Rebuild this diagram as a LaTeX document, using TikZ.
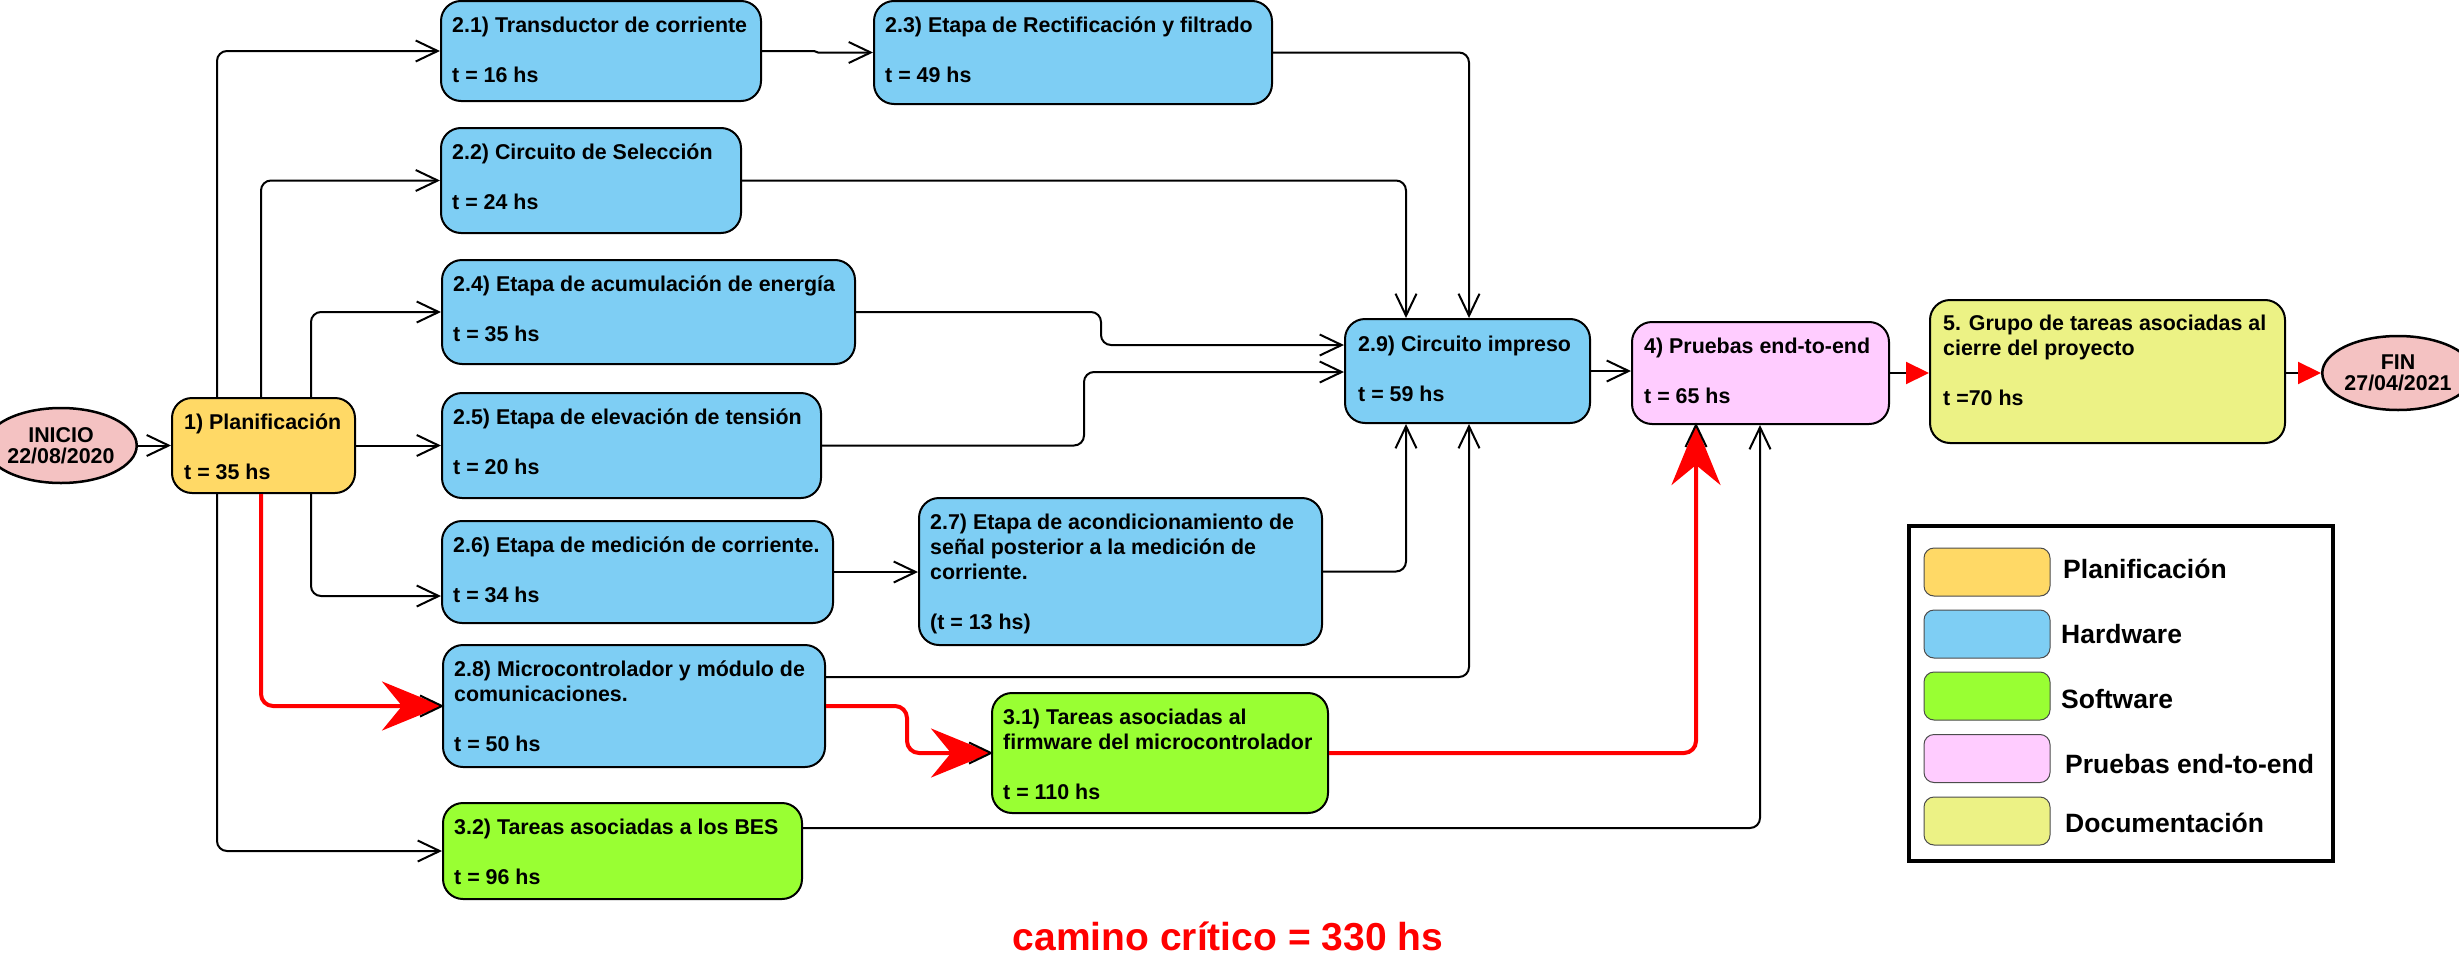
\documentclass[tikz,border=0pt]{standalone}
\usepackage{fontspec}
\setmainfont{Liberation Sans}
\usetikzlibrary{arrows.meta,shapes.geometric}
\definecolor{plancol}{RGB}{255,217,102}
\definecolor{hwcol}{RGB}{126,206,244}
\definecolor{swcol}{RGB}{153,255,51}
\definecolor{e2ecol}{RGB}{255,204,255}
\definecolor{doccol}{RGB}{236,242,133}
\definecolor{milecol}{RGB}{244,194,194}
\tikzset{
  task/.style={draw=black, line width=2pt, rounded corners=20pt, inner sep=0pt},
  mile/.style={ellipse, draw=black, line width=2.5pt, fill=milecol, inner sep=0pt, align=center,
     font=\bfseries\fontsize{21.4pt}{21pt}\selectfont},
  txt/.style={anchor=base west, inner sep=0pt, font=\bfseries\fontsize{21.4pt}{25pt}\selectfont},
  conn/.style={draw=black, line width=2pt, rounded corners=10pt,
     -{Straight Barb[length=22pt,width=21pt,line width=2pt]}},
  crit/.style={draw=red, line width=4pt, rounded corners=12pt,
     -{Stealth[length=60pt,width=49pt,inset=20pt,color=red]}},
  tri/.style={draw=black, line width=2pt, -{Triangle[length=23pt,width=22pt,color=red]}},
  swatch/.style={draw=black!70, line width=1pt, rounded corners=10pt, minimum width=126pt, minimum height=48pt, inner sep=0pt},
  legtxt/.style={anchor=base west, inner sep=0pt, font=\bfseries\fontsize{26.5pt}{30pt}\selectfont},
  barb/.style={draw=black, line width=2pt}
}
\newcommand{\tasktext}[1]{\begin{tabular}[t]{@{}l@{}}#1\end{tabular}}
\begin{document}
\begin{tikzpicture}[x=1pt,y=-1pt]
\useasboundingbox (0,0) rectangle (2459,953);

% milestones
\node[mile, minimum width=118pt, minimum height=75pt] (ini) at (61,445.5) {INICIO\\22/08/2020};
\node[mile, minimum width=117pt, minimum height=74pt] (fin) at (2398,373) {FIN\\27/04/2021};

% task boxes
\node[task, fill=plancol, minimum width=183pt, minimum height=95pt] (plan) at (263.5,445.5) {};
\node[task, fill=hwcol, minimum width=320pt, minimum height=100pt] (b21) at (601,51) {};
\node[task, fill=hwcol, minimum width=398pt, minimum height=103pt] (b23) at (1073,52.5) {};
\node[task, fill=hwcol, minimum width=300pt, minimum height=105pt] (b22) at (591,180.5) {};
\node[task, fill=hwcol, minimum width=413pt, minimum height=104pt] (b24) at (648.5,312) {};
\node[task, fill=hwcol, minimum width=379pt, minimum height=105pt] (b25) at (631.5,445.5) {};
\node[task, fill=hwcol, minimum width=391pt, minimum height=102pt] (b26) at (637.5,572) {};
\node[task, fill=hwcol, minimum width=403pt, minimum height=147pt] (b27) at (1120.5,571.5) {};
\node[task, fill=hwcol, minimum width=382pt, minimum height=122pt] (b28) at (634,706) {};
\node[task, fill=swcol, minimum width=336pt, minimum height=120pt] (b31) at (1160,753) {};
\node[task, fill=swcol, minimum width=359pt, minimum height=96pt] (b32) at (622.5,851) {};
\node[task, fill=hwcol, minimum width=245pt, minimum height=104pt] (b29) at (1467.5,371) {};
\node[task, fill=e2ecol, minimum width=257pt, minimum height=102pt] (b4) at (1760.5,373) {};
\node[task, fill=doccol, minimum width=355pt, minimum height=143pt] (b5) at (2107.5,371.5) {};

% texts
\node[txt] (tplan) at ([shift={(13,32)}]plan.north west) {\tasktext{1) Planificación\\[25pt]t = 35 hs}};
\node[txt] (t21) at ([shift={(12,32)}]b21.north west) {\tasktext{2.1) Transductor de corriente\\[25pt]t = 16 hs}};
\node[txt] (t23) at ([shift={(12,32)}]b23.north west) {\tasktext{2.3) Etapa de Rectificación y filtrado\\[25pt]t = 49 hs}};
\node[txt] (t22) at ([shift={(12,32)}]b22.north west) {\tasktext{2.2) Circuito de Selección\\[25pt]t = 24 hs}};
\node[txt] (t24) at ([shift={(12,32)}]b24.north west) {\tasktext{2.4) Etapa de acumulación de energía\\[25pt]t = 35 hs}};
\node[txt] (t25) at ([shift={(12,32)}]b25.north west) {\tasktext{2.5) Etapa de elevación de tensión\\[25pt]t = 20 hs}};
\node[txt] (t26) at ([shift={(12,32)}]b26.north west) {\tasktext{2.6) Etapa de medición de corriente.\\[25pt]t = 34 hs}};
\node[txt] (t27) at ([shift={(12,32)}]b27.north west) {\tasktext{2.7) Etapa de acondicionamiento de\\señal posterior a la medición de\\corriente.\\[25pt](t = 13 hs)}};
\node[txt] (t28) at ([shift={(12,32)}]b28.north west) {\tasktext{2.8) Microcontrolador y módulo de\\comunicaciones.\\[25pt]t = 50 hs}};
\node[txt] (t31) at ([shift={(12,32)}]b31.north west) {\tasktext{3.1) Tareas asociadas al\\firmware del microcontrolador\\[25pt]t = 110 hs}};
\node[txt] (t32) at ([shift={(12,32)}]b32.north west) {\tasktext{3.2) Tareas asociadas a los BES\\[25pt]t = 96 hs}};
\node[txt] (t29) at ([shift={(14,33)}]b29.north west) {\tasktext{2.9) Circuito impreso\\[25pt]t = 59 hs}};
\node[txt] (t4) at ([shift={(13,32)}]b4.north west) {\tasktext{4) Pruebas end-to-end\\[25pt]t = 65 hs}};
\node[txt] (t5) at ([shift={(14,31)}]b5.north west) {\tasktext{5. Grupo de tareas asociadas al\\cierre del proyecto\\[25pt]t =70 hs}};

% routing coordinates
\coordinate (xA) at (217,0);
\coordinate (xB) at (261,0);
\coordinate (xC) at (311,0);
\coordinate (xD) at (1406,0);
\coordinate (xE) at (1469,0);
\coordinate (xG) at (907,0);
\coordinate (xH) at (1696,0);
\coordinate (xI) at (1760,0);
\coordinate (yA) at (0,596);
\coordinate (yD) at (0,677);
\coordinate (yE) at (0,828);
\coordinate (k24) at (1101,345);
\coordinate (k25) at (1084,372);

% connectors
\draw[conn] (ini.east) -- (plan.west);
\draw[conn] (plan.north -| xA) |- (b21.west);
\draw[conn] (plan.north -| xB) |- (b22.west);
\draw[conn] (plan.north -| xC) |- (b24.west);
\draw[conn] (plan.east) -- (b25.west);
\draw[conn] (plan.south -| xC) |- (b26.west |- yA);
\draw[conn] (plan.south -| xA) |- (b32.west);
\draw[conn, rounded corners=0pt] (b21.east) -- ++(52,0) -- ++(4,1.5) -- (b23.west);
\draw[conn] (b23.east) -| (b29.north -| xE);
\draw[conn] (b22.east) -| (b29.north -| xD);
\draw[conn] (b24.east) -| (k24) -- (b29.west |- k24);
\draw[conn] (b25.east) -| (k25) -- (b29.west |- k25);
\draw[conn] (b26.east) -- (b27.west |- b26.east);
\draw[conn] (b27.east) -| (b29.south -| xD);
\draw[conn] (b28.east |- yD) -| (b29.south -| xE);
\draw[conn] (b32.east |- yE) -| (b4.south -| xI);
\draw[conn] (b29.east) -- (b4.west |- b29.east);
\draw[tri] (b4.east) -- (b5.west |- b4.east);
\draw[tri] (b5.east |- fin.west) -- (fin.west);

% critical path
\draw[crit] (plan.south -| xB) |- (b28.west);
\draw[crit] (b28.east) -- (xG |- b28.east) -- (xG |- b31.west) -- (b31.west);
\draw[crit] (b31.east) -| (b4.south -| xH);
% black barbs at the tips of the critical path
\draw[barb] ([shift={(-22,-10.5)}]b28.west) -- (b28.west) -- ([shift={(-22,10.5)}]b28.west);
\draw[barb] ([shift={(-22,-10.5)}]b31.west) -- (b31.west) -- ([shift={(-22,10.5)}]b31.west);
\draw[barb] ([shift={(-10.5,22)}]b4.south -| xH) -- (b4.south -| xH) -- ([shift={(10.5,22)}]b4.south -| xH);

% legend
\node[draw=black, line width=4pt, minimum width=424pt, minimum height=335pt, inner sep=0pt] (leg) at (2121,693.5) {};
\node[swatch, fill=plancol] (s1) at (1987,572) {};
\node[swatch, fill=hwcol] (s2) at (1987,634) {};
\node[swatch, fill=swcol] (s3) at (1987,696) {};
\node[swatch, fill=e2ecol] (s4) at (1987,758.5) {};
\node[swatch, fill=doccol] (s5) at (1987,821) {};
\node[legtxt] (l1) at (2063,578) {Planificación};
\node[legtxt] (l2) at (2061,643) {Hardware};
\node[legtxt] (l3) at (2061,708) {Software};
\node[legtxt] (l4) at (2065,773) {Pruebas end-to-end};
\node[legtxt] (l5) at (2065,832) {Documentación};

% critical path total
\node[anchor=base, inner sep=0pt, text=red, font=\bfseries\fontsize{39pt}{44pt}\selectfont] (cc) at (1228,950) {camino crítico = 330 hs};
\end{tikzpicture}
\end{document}
